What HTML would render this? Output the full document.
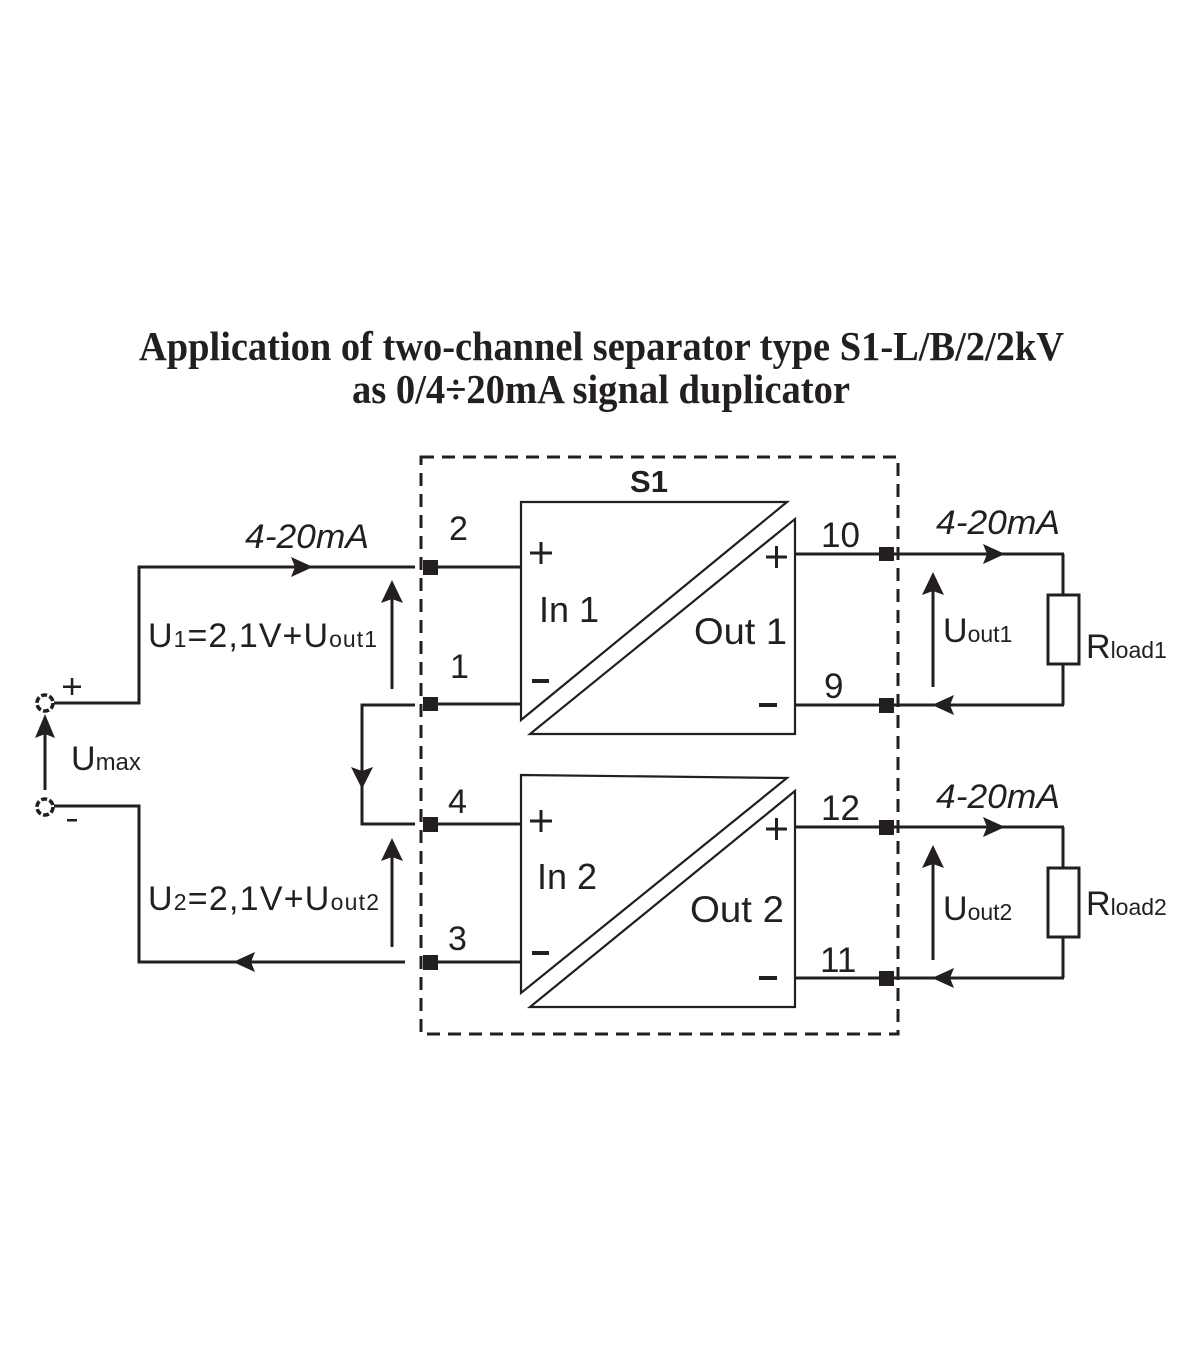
<!DOCTYPE html>
<html><head><meta charset="utf-8"><style>
html,body{margin:0;padding:0;background:#fff;}
svg{display:block;}
text{font-family:"Liberation Sans",sans-serif;fill:#231f20;}
</style></head><body>
<svg width="1200" height="1372" viewBox="0 0 1200 1372" xmlns="http://www.w3.org/2000/svg">
<rect width="1200" height="1372" fill="#fff"/>
<!-- Title -->
<text x="139" y="360" font-family="Liberation Serif, serif" font-weight="bold" font-size="41" textLength="925" lengthAdjust="spacingAndGlyphs" style="font-family:'Liberation Serif',serif">Application of two-channel separator type S1-L/B/2/2kV</text>
<text x="352" y="403" font-family="Liberation Serif, serif" font-weight="bold" font-size="41" textLength="498" lengthAdjust="spacingAndGlyphs" style="font-family:'Liberation Serif',serif">as 0/4÷20mA signal duplicator</text>

<g stroke="#231f20" fill="none">
<!-- dashed box -->
<rect x="421" y="457" width="477" height="577" stroke-width="3" stroke-dasharray="13 8"/>

<!-- block 1 -->
<polygon points="521,502 787,502 521,720" stroke-width="2.2" fill="#fff"/>
<polygon points="795,519 795,734 530,734" stroke-width="2.2" fill="#fff"/>
<!-- block 2 -->
<polygon points="521,775 787,778 521,993" stroke-width="2.2" fill="#fff"/>
<polygon points="795,791 795,1007 530,1007" stroke-width="2.2" fill="#fff"/>

<g stroke-width="3">
<!-- input wires -->
<line x1="438" y1="567" x2="521" y2="567"/>
<line x1="438" y1="704" x2="521" y2="704"/>
<line x1="438" y1="824" x2="521" y2="824"/>
<line x1="438" y1="962" x2="521" y2="962"/>
<!-- output wires -->
<line x1="795" y1="554" x2="1064" y2="554"/>
<line x1="795" y1="705" x2="1064" y2="705"/>
<line x1="795" y1="827" x2="1064" y2="827"/>
<line x1="795" y1="978" x2="1064" y2="978"/>
<!-- resistor 1 -->
<line x1="1063" y1="554" x2="1063" y2="595"/>
<line x1="1063" y1="664" x2="1063" y2="705"/>
<rect x="1048" y="595" width="31" height="69" fill="#fff"/>
<!-- resistor 2 -->
<line x1="1063" y1="827" x2="1063" y2="868"/>
<line x1="1063" y1="937" x2="1063" y2="978"/>
<rect x="1048" y="868" width="31" height="69" fill="#fff"/>

<!-- left source wiring -->
<polyline points="54,703 139,703 139,567 415,567"/>
<polyline points="54,806 139,806 139,962 405,962"/>
<!-- pin1-pin4 loop -->
<polyline points="415,705 362,705 362,824 415,824"/>

<!-- voltage arrows lines -->
<line x1="392" y1="689" x2="392" y2="598"/>
<line x1="392" y1="947" x2="392" y2="856"/>
<line x1="933" y1="687" x2="933" y2="590"/>
<line x1="933" y1="960" x2="933" y2="863"/>
<line x1="45" y1="790" x2="45" y2="732"/>
</g>

<!-- terminals circles -->
<circle cx="45" cy="703" r="8" stroke-width="3.6" stroke-dasharray="6 2.4" fill="#fff"/>
<circle cx="45" cy="807" r="8" stroke-width="3.6" stroke-dasharray="6 2.4" fill="#fff"/>
</g>

<!-- terminal squares -->
<g fill="#231f20">
<rect x="423" y="560" width="15" height="15"/>
<rect x="423" y="697" width="15" height="14"/>
<rect x="423" y="817" width="15" height="15"/>
<rect x="423" y="955" width="15" height="15"/>
<rect x="879" y="547" width="15" height="14"/>
<rect x="879" y="698" width="15" height="15"/>
<rect x="879" y="820" width="15" height="15"/>
<rect x="879" y="971" width="15" height="15"/>

<!-- arrowheads -->
<polygon points="313,567 291,557 295,567 291,577"/>
<polygon points="1005,554 983,544 987,554 983,564"/>
<polygon points="1005,827 983,817 987,827 983,837"/>
<polygon points="233,962 255,952 251,962 255,972"/>
<polygon points="932,705 954,695 950,705 954,715"/>
<polygon points="932,978 954,968 950,978 954,988"/>
<polygon points="392,580 381,603 392,599 403,603"/>
<polygon points="392,838 381,861 392,857 403,861"/>
<polygon points="933,572 922,595 933,591 944,595"/>
<polygon points="933,845 922,868 933,864 944,868"/>
<polygon points="45,714 35,738 45,734 55,738"/>
<polygon points="362,789 351,767 362,771 373,767"/>

<!-- +/- signs in blocks -->
<rect x="530" y="551.5" width="22" height="3"/>
<rect x="539.5" y="542" width="3" height="22"/>
<rect x="532" y="679" width="17" height="4"/>
<rect x="766" y="555.5" width="21" height="3"/>
<rect x="775" y="546" width="3" height="22"/>
<rect x="759" y="703" width="18" height="4"/>

<rect x="530" y="819.5" width="22" height="3"/>
<rect x="539.5" y="810" width="3" height="22"/>
<rect x="532" y="951" width="17" height="4"/>
<rect x="766" y="827.5" width="21" height="3"/>
<rect x="775" y="818" width="3" height="22"/>
<rect x="759" y="976" width="18" height="4"/>

<!-- source +/- -->
<rect x="63" y="685.5" width="18" height="2.5"/>
<rect x="70.8" y="678" width="2.5" height="17"/>
<rect x="67" y="819" width="10" height="2.5"/>
</g>

<!-- Labels -->
<text x="649" y="492" font-size="31" font-weight="bold" text-anchor="middle">S1</text>
<text x="449" y="540" font-size="34">2</text>
<text x="450" y="678" font-size="34">1</text>
<text x="448" y="813" font-size="34">4</text>
<text x="448" y="950" font-size="34">3</text>
<text x="821" y="547" font-size="35">10</text>
<text x="824" y="698" font-size="35">9</text>
<text x="821" y="820" font-size="35">12</text>
<text x="820" y="972" font-size="35">11</text>

<text x="539" y="622" font-size="36">In 1</text>
<text x="694" y="644" font-size="37" textLength="93" lengthAdjust="spacingAndGlyphs">Out 1</text>
<text x="537" y="889" font-size="36">In 2</text>
<text x="690" y="922" font-size="37" textLength="94" lengthAdjust="spacingAndGlyphs">Out 2</text>

<text x="245" y="548" font-size="34" font-style="italic" textLength="124" lengthAdjust="spacingAndGlyphs">4-20mA</text>
<text x="936" y="534" font-size="34" font-style="italic" textLength="124" lengthAdjust="spacingAndGlyphs">4-20mA</text>
<text x="936" y="808" font-size="34" font-style="italic" textLength="124" lengthAdjust="spacingAndGlyphs">4-20mA</text>

<text x="148" y="647" font-size="34" textLength="229" lengthAdjust="spacing">U<tspan font-size="23">1</tspan>=2,1V+U<tspan font-size="23">out1</tspan></text>
<text x="148" y="910" font-size="34" textLength="231" lengthAdjust="spacing">U<tspan font-size="23">2</tspan>=2,1V+U<tspan font-size="23">out2</tspan></text>
<text x="71" y="770" font-size="34">U<tspan font-size="24">max</tspan></text>
<text x="943" y="642" font-size="34">U<tspan font-size="23">out1</tspan></text>
<text x="943" y="920" font-size="34">U<tspan font-size="23">out2</tspan></text>
<text x="1086" y="658" font-size="34">R<tspan font-size="23">load1</tspan></text>
<text x="1086" y="915" font-size="34">R<tspan font-size="23">load2</tspan></text>
</svg>
</body></html>
